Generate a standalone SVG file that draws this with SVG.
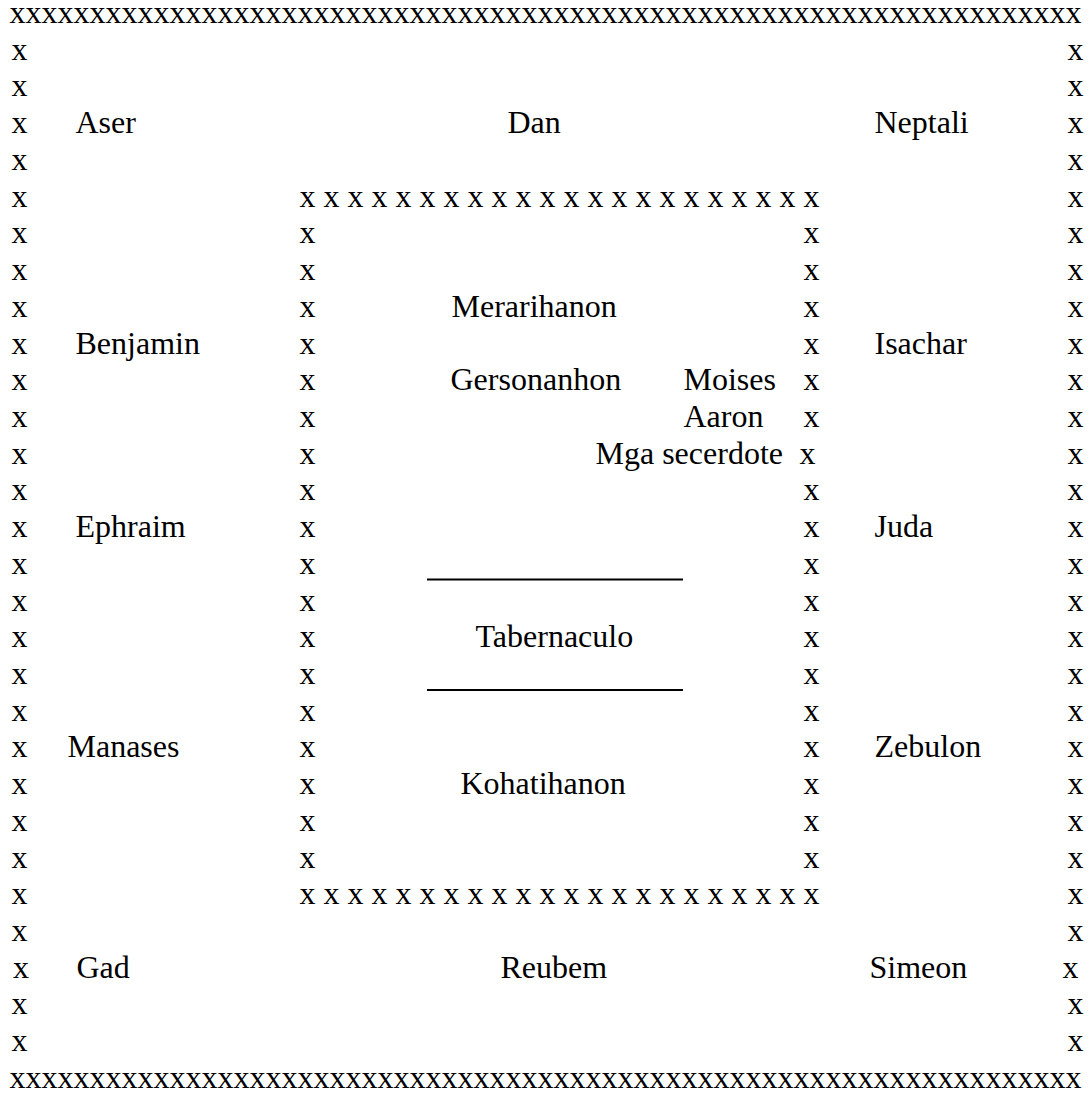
<svg xmlns="http://www.w3.org/2000/svg" width="1089" height="1095" viewBox="0 0 1089 1095">
<style>
text{font-family:"Liberation Serif","Times New Roman",serif;font-size:32px;fill:#000}
.ul{stroke:#000;stroke-width:1.8}
</style>
<rect width="1089" height="1095" fill="#fff"/>
<g id="outer-border">
<text x="9.5" y="23">xxxxxxxxxxxxxxxxxxxxxxxxxxxxxxxxxxxxxxxxxxxxxxxxxxxxxxxxxxxxxxxxxxx</text>
<text x="9.5" y="1088">xxxxxxxxxxxxxxxxxxxxxxxxxxxxxxxxxxxxxxxxxxxxxxxxxxxxxxxxxxxxxxxxxxx</text>
<text><tspan x="11.5" y="59.7">x</tspan><tspan x="11.5" y="96.4">x</tspan><tspan x="11.5" y="133.2">x</tspan><tspan x="11.5" y="169.9">x</tspan><tspan x="11.5" y="206.6">x</tspan><tspan x="11.5" y="243.3">x</tspan><tspan x="11.5" y="280">x</tspan><tspan x="11.5" y="316.8">x</tspan><tspan x="11.5" y="353.5">x</tspan><tspan x="11.5" y="390.2">x</tspan><tspan x="11.5" y="426.9">x</tspan><tspan x="11.5" y="463.6">x</tspan><tspan x="11.5" y="500.4">x</tspan><tspan x="11.5" y="537.1">x</tspan><tspan x="11.5" y="573.8">x</tspan><tspan x="11.5" y="610.5">x</tspan><tspan x="11.5" y="647.2">x</tspan><tspan x="11.5" y="684">x</tspan><tspan x="11.5" y="720.7">x</tspan><tspan x="11.5" y="757.4">x</tspan><tspan x="11.5" y="794.1">x</tspan><tspan x="11.5" y="830.8">x</tspan><tspan x="11.5" y="867.6">x</tspan><tspan x="11.5" y="904.3">x</tspan><tspan x="11.5" y="941">x</tspan><tspan x="13" y="977.7">x</tspan><tspan x="11.5" y="1014.4">x</tspan><tspan x="11.5" y="1051.2">x</tspan></text>
<text><tspan x="1067.5" y="59.7">x</tspan><tspan x="1067.5" y="96.4">x</tspan><tspan x="1067.5" y="133.2">x</tspan><tspan x="1067.5" y="169.9">x</tspan><tspan x="1067.5" y="206.6">x</tspan><tspan x="1067.5" y="243.3">x</tspan><tspan x="1067.5" y="280">x</tspan><tspan x="1067.5" y="316.8">x</tspan><tspan x="1067.5" y="353.5">x</tspan><tspan x="1067.5" y="390.2">x</tspan><tspan x="1067.5" y="426.9">x</tspan><tspan x="1067.5" y="463.6">x</tspan><tspan x="1067.5" y="500.4">x</tspan><tspan x="1067.5" y="537.1">x</tspan><tspan x="1067.5" y="573.8">x</tspan><tspan x="1067.5" y="610.5">x</tspan><tspan x="1067.5" y="647.2">x</tspan><tspan x="1067.5" y="684">x</tspan><tspan x="1067.5" y="720.7">x</tspan><tspan x="1067.5" y="757.4">x</tspan><tspan x="1067.5" y="794.1">x</tspan><tspan x="1067.5" y="830.8">x</tspan><tspan x="1067.5" y="867.6">x</tspan><tspan x="1067.5" y="904.3">x</tspan><tspan x="1067.5" y="941">x</tspan><tspan x="1062.5" y="977.7">x</tspan><tspan x="1067.5" y="1014.4">x</tspan><tspan x="1067.5" y="1051.2">x</tspan></text>
</g>
<g id="inner-border">
<text x="299.5" y="206.6">x x x x x x x x x x x x x x x x x x x x x x</text>
<text x="299.5" y="904.3">x x x x x x x x x x x x x x x x x x x x x x</text>
<text><tspan x="299.5" y="243.3">x</tspan><tspan x="299.5" y="280">x</tspan><tspan x="299.5" y="316.8">x</tspan><tspan x="299.5" y="353.5">x</tspan><tspan x="299.5" y="390.2">x</tspan><tspan x="299.5" y="426.9">x</tspan><tspan x="299.5" y="463.6">x</tspan><tspan x="299.5" y="500.4">x</tspan><tspan x="299.5" y="537.1">x</tspan><tspan x="299.5" y="573.8">x</tspan><tspan x="299.5" y="610.5">x</tspan><tspan x="299.5" y="647.2">x</tspan><tspan x="299.5" y="684">x</tspan><tspan x="299.5" y="720.7">x</tspan><tspan x="299.5" y="757.4">x</tspan><tspan x="299.5" y="794.1">x</tspan><tspan x="299.5" y="830.8">x</tspan><tspan x="299.5" y="867.6">x</tspan></text>
<text><tspan x="803.5" y="243.3">x</tspan><tspan x="803.5" y="280">x</tspan><tspan x="803.5" y="316.8">x</tspan><tspan x="803.5" y="353.5">x</tspan><tspan x="803.5" y="390.2">x</tspan><tspan x="803.5" y="426.9">x</tspan><tspan x="799.5" y="463.6">x</tspan><tspan x="803.5" y="500.4">x</tspan><tspan x="803.5" y="537.1">x</tspan><tspan x="803.5" y="573.8">x</tspan><tspan x="803.5" y="610.5">x</tspan><tspan x="803.5" y="647.2">x</tspan><tspan x="803.5" y="684">x</tspan><tspan x="803.5" y="720.7">x</tspan><tspan x="803.5" y="757.4">x</tspan><tspan x="803.5" y="794.1">x</tspan><tspan x="803.5" y="830.8">x</tspan><tspan x="803.5" y="867.6">x</tspan></text>
</g>
<g id="aser"><text x="75.5" y="133.2">Aser</text></g>
<g id="dan"><text x="507.5" y="133.2">Dan</text></g>
<g id="neptali"><text x="874.5" y="133.2">Neptali</text></g>
<g id="benjamin"><text x="75.5" y="353.5">Benjamin</text></g>
<g id="isachar"><text x="874.5" y="353.5">Isachar</text></g>
<g id="ephraim"><text x="75.5" y="537.1">Ephraim</text></g>
<g id="juda"><text x="874.5" y="537.1">Juda</text></g>
<g id="manases"><text x="67.5" y="757.4">Manases</text></g>
<g id="zebulon"><text x="874.5" y="757.4">Zebulon</text></g>
<g id="gad"><text x="76.5" y="977.7">Gad</text></g>
<g id="reubem"><text x="500.5" y="977.7">Reubem</text></g>
<g id="simeon"><text x="869.5" y="977.7">Simeon</text></g>
<g id="merarihanon"><text x="451.5" y="316.8">Merarihanon</text></g>
<g id="gersonanhon"><text x="450.5" y="390.2">Gersonanhon</text></g>
<g id="moises"><text x="683.5" y="390.2">Moises</text></g>
<g id="aaron"><text x="683.5" y="426.9">Aaron</text></g>
<g id="mga-secerdote"><text x="595.5" y="463.6">Mga secerdote</text></g>
<g id="tabernaculo">
<line class="ul" x1="427" y1="579.5" x2="683" y2="579.5"/>
<text x="475.5" y="647.2">Tabernaculo</text>
<line class="ul" x1="427" y1="690" x2="683" y2="690"/>
</g>
<g id="kohatihanon"><text x="460.5" y="794.1">Kohatihanon</text></g>
<g id="connectors"></g>
</svg>
